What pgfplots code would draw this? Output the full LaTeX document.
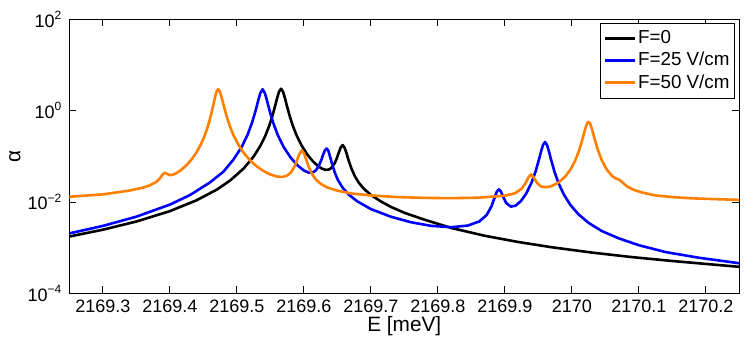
\documentclass[border=0pt]{standalone}
\usepackage{fontspec}
\setmainfont{Liberation Sans}
\usepackage{pgfplots}
\pgfplotsset{compat=1.18}
\definecolor{mblue}{RGB}{0,0,255}
\definecolor{morange}{RGB}{255,128,0}
\begin{document}
\begin{tikzpicture}
\useasboundingbox (0,0) rectangle (373.5pt,169.5pt);
\begin{axis}[
  at={(34.65pt,22.85pt)}, anchor=south west,
  scale only axis, width=335pt, height=137pt,
  % x is stored as E - 2169 meV (keeps TeX's arithmetic precise)
  xmin=0.25, xmax=1.25, ymode=log, ymin=1e-4, ymax=1e2,
  xtick={0.3,0.4,0.5,0.6,0.7,0.8,0.9,1.0,1.1,1.2},
  xticklabels={2169.3,2169.4,2169.5,2169.6,2169.7,2169.8,2169.9,2170,2170.1,2170.2},
  ytick={1e-4,1e-2,1,1e2},
  yticklabels={10\textsuperscript{−4},10\textsuperscript{−2},10\textsuperscript{0},10\textsuperscript{2}},
  yminorticks=false, xminorticks=false,
  tick align=inside, major tick length=3.5pt,
  tick style={black, line width=0.4pt},
  axis line style={black, line width=0.5pt},
  tick label style={font=\fontsize{9}{10}\selectfont},
  xlabel={E [meV]}, ylabel={α},
  label style={font=\fontsize{10.4}{12}\selectfont},
  xlabel style={at={(axis description cs:0.5,0)}, anchor=center, yshift=-16.35pt},
  ylabel style={at={(axis description cs:0,0.5)}, anchor=center, yshift=27.15pt},
  legend style={at={(axis description cs:1,1)}, anchor=north east, xshift=-2.15pt, yshift=-1.85pt,
    draw=black, line width=0.5pt, font=\fontsize{9.4}{10.5}\selectfont, legend cell align=left,
    inner xsep=1.5pt, inner ysep=1.5pt, row sep=-1.2pt,
    nodes={inner xsep=1pt, inner ysep=2pt}},
  legend image code/.code={\draw[#1, line width=1.3pt] (0pt,0pt) -- (15pt,0pt);},
  every axis plot/.append style={line width=1.3pt, line join=round},
]
\addplot[black] coordinates {
(0.25,1.75e-3) (0.30,2.47e-3) (0.35,3.73e-3) (0.40,6.29e-3) (0.44,1.09e-2) (0.47,1.86e-2)
(0.49,2.95e-2) (0.51,5.37e-2) (0.525,9.83e-2) (0.535,0.1677) (0.542,0.2695) (0.548,0.4477)
(0.553,0.7548) (0.557,1.239) (0.560,1.843) (0.563,2.605) (0.566,3.023) (0.569,2.606)
(0.572,1.844) (0.575,1.240) (0.579,0.756) (0.584,0.4487) (0.590,0.2708) (0.597,0.1694)
(0.605,0.1109) (0.613,0.0793) (0.620,0.0631) (0.627,0.0537) (0.633,0.0503) (0.638,0.0517)
(0.642,0.0574) (0.646,0.0703) (0.649,0.0886) (0.652,0.1182) (0.655,0.1562) (0.658,0.1764)
(0.661,0.1536) (0.664,0.1130) (0.667,0.0807) (0.671,0.0544) (0.676,0.0371) (0.682,0.0265)
(0.690,0.0192) (0.70,1.43e-2) (0.715,1.03e-2) (0.73,7.8e-3) (0.75,5.8e-3) (0.78,4.1e-3)
(0.82,2.7e-3) (0.87,1.82e-3) (0.92,1.33e-3) (0.97,1.02e-3) (1.03,7.8e-4) (1.09,6.2e-4)
(1.15,5.1e-4) (1.20,4.4e-4) (1.25,3.8e-4)
};
\addlegendentry{F=0}
\addplot[mblue] coordinates {
(0.25,2.05e-3) (0.30,2.99e-3) (0.35,4.76e-3) (0.40,8.74e-3) (0.43,1.415e-2) (0.46,2.68e-2)
(0.48,4.6e-2) (0.495,8.5e-2) (0.507,0.1576) (0.516,0.2939) (0.523,0.557) (0.528,0.992)
(0.532,1.675) (0.535,2.409) (0.5385,2.934) (0.542,2.410) (0.545,1.676) (0.549,0.993)
(0.554,0.558) (0.561,0.2948) (0.570,0.1590) (0.580,0.0953) (0.590,0.0646) (0.600,0.0490)
(0.607,0.0440) (0.613,0.0441) (0.618,0.0493) (0.622,0.0599) (0.626,0.0821) (0.629,0.1098)
(0.6315,0.1358) (0.634,0.1479) (0.6365,0.1339) (0.639,0.100) (0.642,0.070) (0.646,0.045)
(0.651,0.030) (0.658,0.0205) (0.667,0.0145) (0.68,0.0103) (0.70,7.0e-3) (0.73,4.75e-3)
(0.76,3.6e-3) (0.79,3.0e-3) (0.82,2.8e-3) (0.845,3.05e-3) (0.862,3.75e-3) (0.873,5.2e-3)
(0.880,8.0e-3) (0.885,0.0127) (0.888,0.0167) (0.891,0.0189) (0.894,0.0171) (0.897,0.0135)
(0.902,9.5e-3) (0.909,7.9e-3) (0.916,8.3e-3) (0.924,0.01045) (0.932,0.01535) (0.940,0.0267)
(0.946,0.0469) (0.951,0.0851) (0.954,0.1259) (0.957,0.1774) (0.960,0.2056) (0.963,0.1773)
(0.966,0.1258) (0.969,0.0849) (0.974,0.0466) (0.980,0.0262) (0.988,0.01466) (0.998,8.56e-3)
(1.01,5.36e-3) (1.025,3.49e-3) (1.045,2.30e-3) (1.07,1.60e-3) (1.10,1.13e-3) (1.14,8.0e-4)
(1.19,6.0e-4) (1.25,4.55e-4)
};
\addlegendentry{F=25 V/cm}
\addplot[morange] coordinates {
(0.25,1.30e-2) (0.30,1.465e-2) (0.34,1.78e-2) (0.36,2.06e-2) (0.37,2.31e-2) (0.380,2.76e-2)
(0.385,3.25e-2) (0.388,3.75e-2) (0.392,4.37e-2) (0.396,4.12e-2) (0.400,3.88e-2) (0.405,3.96e-2)
(0.410,4.29e-2) (0.416,4.93e-2) (0.422,5.84e-2) (0.428,7.17e-2) (0.434,9.14e-2) (0.440,0.1233)
(0.446,0.178) (0.451,0.2596) (0.455,0.3742) (0.459,0.582) (0.462,0.862) (0.465,1.344)
(0.468,2.116) (0.470,2.678) (0.472,2.938) (0.474,2.733) (0.476,2.281) (0.479,1.569)
(0.482,1.061) (0.486,0.661) (0.490,0.442) (0.495,0.2912) (0.502,0.1827) (0.510,0.1206)
(0.520,0.0811) (0.530,0.0599) (0.540,0.0475) (0.550,0.0400) (0.560,0.0360) (0.568,0.0353)
(0.575,0.0377) (0.581,0.0447) (0.586,0.0592) (0.590,0.0830) (0.593,0.1103) (0.597,0.1348)
(0.600,0.1186) (0.603,0.0894) (0.607,0.0604) (0.612,0.0416) (0.618,0.0310) (0.626,0.0245)
(0.636,0.0205) (0.650,0.0177) (0.670,0.0154) (0.70,0.0139) (0.74,0.0128) (0.78,0.0123)
(0.82,0.0121) (0.86,0.0124) (0.90,0.0137) (0.915,0.0155) (0.925,0.0194) (0.931,0.0259)
(0.935,0.0341) (0.939,0.0401) (0.943,0.0349) (0.948,0.0262) (0.954,0.0218) (0.962,0.0210)
(0.970,0.0223) (0.980,0.0266) (0.990,0.0358) (0.998,0.0513) (1.005,0.0802) (1.011,0.1359)
(1.016,0.2405) (1.020,0.3987) (1.023,0.534) (1.025,0.571) (1.027,0.534) (1.030,0.3987)
(1.034,0.2405) (1.039,0.1362) (1.045,0.0804) (1.052,0.0518) (1.060,0.0372) (1.066,0.0327)
(1.071,0.0307) (1.076,0.0264) (1.083,0.0217) (1.092,0.0185) (1.105,0.0161) (1.125,0.0139)
(1.15,0.0128) (1.18,0.0120) (1.21,0.0116) (1.25,0.0111)
};
\addlegendentry{F=50 V/cm}
\end{axis}
\end{tikzpicture}
\end{document}
